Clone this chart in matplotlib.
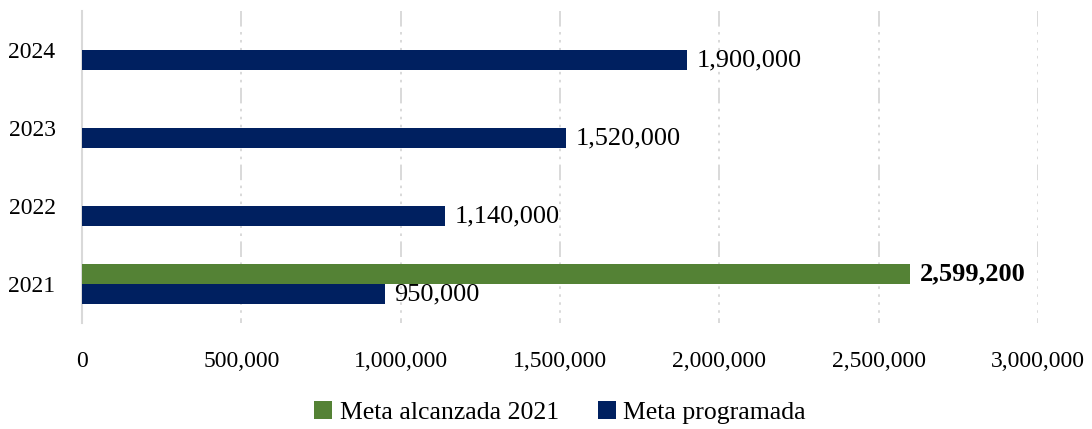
import matplotlib.pyplot as plt
import numpy as np
from matplotlib.ticker import FuncFormatter

plt.rc('font', family=['Liberation Serif', 'DejaVu Serif'], size=17)

years = ['2021', '2022', '2023', '2024']
programada = [950000, 1140000, 1520000, 1900000]
alcanzada_2021 = [2599200]

navy = '#002060'
green = '#548235'
grid_grey = '#D9D9D9'

fig = plt.figure(figsize=(10.92, 4.29), dpi=100)
ax = fig.add_axes([0.0751, 0.247, 0.8754, 0.727])

y = np.arange(len(years))
h = 0.256

# blue bars sit just below the category centre, green one just above
ax.barh(y - h/2, programada, height=h, color=navy, label='Meta programada', zorder=3)
ax.barh(y[:1] + h/2, alcanzada_2021, height=h, color=green, label='Meta alcanzada 2021', zorder=3)

for yi, v in zip(y, programada):
    ax.text(v + 30000, yi - h/2, f'{v:,}', va='center', ha='left', fontsize=19)
ax.text(alcanzada_2021[0] + 30000, y[0] + h/2, f'{alcanzada_2021[0]:,}',
        va='center', ha='left', fontsize=19, fontweight='bold')

ax.set_xlim(0, 3000000)
ax.set_ylim(-0.5, 3.5)
ax.set_yticks(y)
ax.set_yticklabels(years)
ax.set_xticks(np.arange(0, 3000001, 500000))
ax.xaxis.set_major_formatter(FuncFormatter(lambda v, p: f'{int(v):,}'))
ax.tick_params(length=0, labelsize=17, colors='#000000')
ax.tick_params(axis='x', pad=20)
ax.tick_params(axis='y', pad=19)

for s in ['top', 'right', 'bottom']:
    ax.spines[s].set_visible(False)
ax.spines['left'].set_color(grid_grey)
ax.spines['left'].set_linewidth(1.5)

# long dash followed by a run of dots, drawn top-down
dash = (0, (8.0, 2.8, 1.3, 2.8, 1.3, 2.8, 1.3, 2.8, 1.3, 2.8,
            1.3, 2.8, 1.3, 2.8, 1.3, 2.8))
for xv in np.arange(500000, 3000001, 500000):
    ax.plot([xv, xv], [1, 0], transform=ax.get_xaxis_transform(),
            color=grid_grey, linewidth=1.4, linestyle=dash, zorder=0)

handles, labels = ax.get_legend_handles_labels()
fig.legend(handles[::-1], labels[::-1], loc='lower center', bbox_to_anchor=(0.513, -0.043),
           ncol=2, frameon=False, fontsize=18.5, handlelength=0.7, handleheight=0.7,
           handletextpad=0.3, columnspacing=1.5)

fig.savefig('out.png', dpi=100)
